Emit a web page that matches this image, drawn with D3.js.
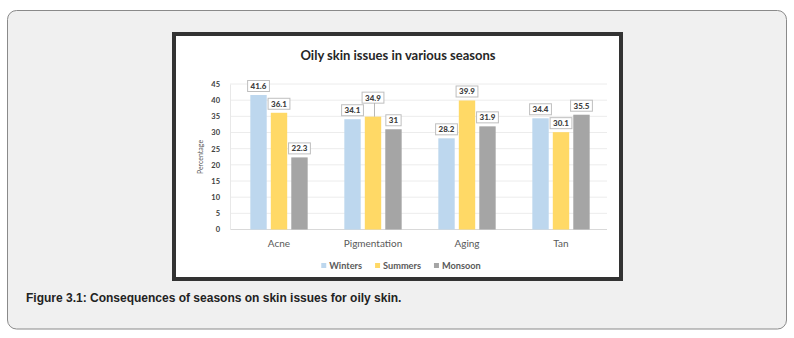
<!DOCTYPE html>
<html>
<head>
<meta charset="utf-8">
<script src="https://cdn.jsdelivr.net/npm/d3@7"></script>
<style>
  html, body { margin: 0; padding: 0; background: #ffffff; }
  svg { display: block; }
</style>
</head>
<body>
<svg id="chart" width="794" height="338"></svg>
<script>
// ---- data ----
const categories = ["Acne", "Pigmentation", "Aging", "Tan"];
const seriesNames = ["Winters", "Summers", "Monsoon"];
const winters = [41.6, 34.1, 28.2, 34.4];
const summers = [36.1, 34.9, 39.9, 30.1];
const monsoon = [22.3, 31, 31.9, 35.5];
const yTicks = [0, 5, 10, 15, 20, 25, 30, 35, 40, 45];
const labelText = {
  Winters: ["41.6", "34.1", "28.2", "34.4"],
  Summers: ["36.1", "34.9", "39.9", "30.1"],
  Monsoon: ["22.3", "31", "31.9", "35.5"]
};
const titleText = "Oily skin issues in various seasons";
const yTitle = "Percentage";
const caption = "Figure 3.1: Consequences of seasons on skin issues for oily skin.";

const seriesValues = { Winters: winters, Summers: summers, Monsoon: monsoon };
const colors = { Winters: "#bdd7ee", Summers: "#ffd966", Monsoon: "#a5a5a5" };
// labels moved up with a leader line (layout only)
const raised = { "Pigmentation|Summers": 10 };

const svg = d3.select("#chart");

// outer panel
svg.append("rect")
  .attr("x", 7.5).attr("y", 10.5).attr("width", 779).attr("height", 318.5)
  .attr("rx", 9).attr("ry", 9)
  .attr("fill", "#f0f0f0").attr("stroke", "#8a8a8a").attr("stroke-width", 1);

// chart image frame
svg.append("rect")
  .attr("x", 174).attr("y", 34).attr("width", 447).attr("height", 245)
  .attr("fill", "#ffffff").attr("stroke", "#333333").attr("stroke-width", 4);

// title
svg.append("text")
  .attr("x", 398).attr("y", 59.5)
  .attr("text-anchor", "middle")
  .attr("font-family", "Lato, 'Open Sans', sans-serif")
  .attr("font-weight", "bold").attr("font-size", 13)
  .attr("fill", "#262626")
  .text(titleText);

// scales
const x0 = d3.scaleBand().domain(categories).range([232, 608]).paddingInner(0.39).paddingOuter(0.195);
const x1 = d3.scaleBand().domain(seriesNames).range([0, x0.bandwidth()]).paddingInner(0.2).paddingOuter(0);
const y = d3.scaleLinear().domain([0, 45]).range([229.5, 84]);

const gridLeft = 230, gridRight = 607;

// gridlines
svg.append("g").selectAll("line").data(yTicks).join("line")
  .attr("x1", gridLeft).attr("x2", gridRight)
  .attr("y1", d => y(d)).attr("y2", d => y(d))
  .attr("stroke", d => d === 0 ? "#d9d9d9" : "#ececec").attr("stroke-width", 1);

// y axis via d3 axis (labels only)
const yAxis = svg.append("g")
  .attr("transform", `translate(${gridLeft},0)`)
  .call(d3.axisLeft(y).tickValues(yTicks).tickSize(0).tickPadding(10).tickFormat(d3.format("d")));
yAxis.select(".domain").attr("stroke", "#e8e8e8");
yAxis.selectAll("text")
  .attr("font-family", "Lato, sans-serif").attr("font-weight", "bold")
  .attr("font-size", 7.5).attr("fill", "#404040");

// y title
svg.append("text")
  .attr("transform", "translate(203,157) rotate(-90)")
  .attr("text-anchor", "middle")
  .attr("font-family", "Lato, sans-serif").attr("font-size", 7)
  .attr("fill", "#595959")
  .text(yTitle);

// x axis labels
const xAxis = svg.append("g")
  .attr("transform", "translate(0,229.5)")
  .call(d3.axisBottom(x0).tickSize(0).tickPadding(10));
xAxis.select(".domain").remove();
xAxis.selectAll("text")
  .attr("font-family", "Lato, sans-serif").attr("font-size", 10)
  .attr("fill", "#595959");

// bars
const rows = [];
categories.forEach((c, i) => {
  seriesNames.forEach(s => {
    rows.push({ cat: c, ser: s, v: seriesValues[s][i], label: labelText[s][i] });
  });
});

svg.append("g").selectAll("rect").data(rows).join("rect")
  .attr("x", d => x0(d.cat) + x1(d.ser))
  .attr("y", d => y(d.v))
  .attr("width", x1.bandwidth())
  .attr("height", d => y(0) - y(d.v))
  .attr("fill", d => colors[d.ser]);

// data labels
const lg = svg.append("g");
rows.forEach(d => {
  const cx = x0(d.cat) + x1(d.ser) + x1.bandwidth() / 2;
  const lift = raised[d.cat + "|" + d.ser] || 0;
  const bottom = y(d.v) - 3.5 - lift;
  const g = lg.append("g");
  const t = g.append("text")
    .attr("x", cx).attr("y", bottom - 2.5)
    .attr("text-anchor", "middle")
    .attr("font-family", "Lato, sans-serif").attr("font-weight", "900")
    .attr("font-size", 8).attr("fill", "#404040")
    .text(d.label);
  const w = t.node().getComputedTextLength() + 6;
  const h = 11;
  g.insert("rect", "text")
    .attr("x", cx - w / 2).attr("y", bottom - h)
    .attr("width", w).attr("height", h)
    .attr("fill", "#ffffff").attr("stroke", "#bfbfbf").attr("stroke-width", 1);
  if (lift) {
    g.append("line")
      .attr("x1", cx + 1.5).attr("x2", cx + 1.5)
      .attr("y1", bottom).attr("y2", y(d.v))
      .attr("stroke", "#a6a6a6").attr("stroke-width", 0.8);
  }
});

// legend
const legend = svg.append("g");
let lx = 0;
seriesNames.forEach(s => {
  const g = legend.append("g");
  g.append("rect").attr("x", 0).attr("y", -3).attr("width", 5).attr("height", 5).attr("fill", colors[s]);
  const t = g.append("text").attr("x", 8).attr("y", 3)
    .attr("font-family", "Lato, sans-serif").attr("font-weight", "bold")
    .attr("font-size", 9.2).attr("fill", "#595959").text(s);
  const w = 8 + t.node().getComputedTextLength();
  g.attr("transform", `translate(${lx},0)`);
  lx += w + 13;
});
const totalW = lx - 13;
legend.attr("transform", `translate(${401 - totalW / 2},266)`);

// caption
svg.append("text")
  .attr("x", 26).attr("y", 301.5)
  .attr("font-family", "'Liberation Sans', Arial, sans-serif")
  .attr("font-weight", "bold").attr("font-size", 12)
  .attr("fill", "#222222")
  .text(caption);
</script>
</body>
</html>
